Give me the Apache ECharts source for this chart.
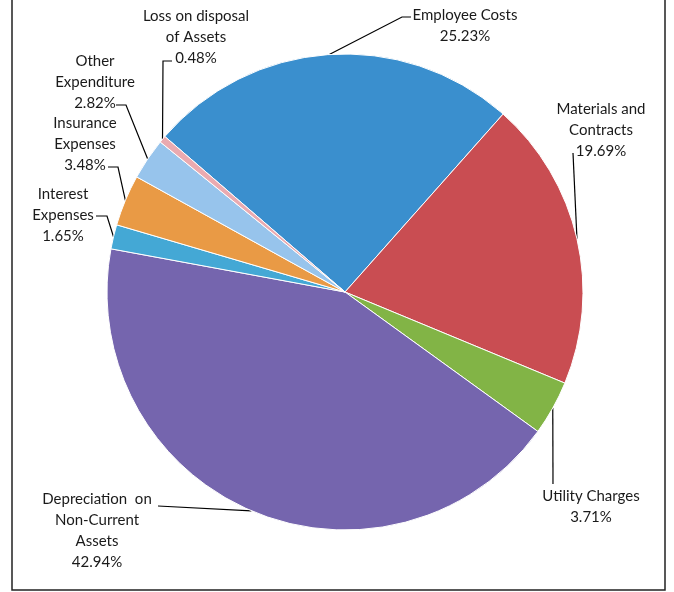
<!DOCTYPE html>
<html>
<head>
<meta charset="utf-8">
<style>
  html, body { margin: 0; padding: 0; background: #fff; }
  #chart { width: 674px; height: 592px; }
</style>
<script src="https://cdn.jsdelivr.net/npm/echarts@6/dist/echarts.min.js"></script>
</head>
<body>
<div id="chart"></div>
<script>
// Expense categories, listed clockwise from the top
const categories = [
  'Employee Costs',
  'Materials and\nContracts',
  'Utility Charges',
  'Depreciation  on\nNon-Current\nAssets',
  'Interest\nExpenses',
  'Insurance\nExpenses',
  'Other\nExpenditure',
  'Loss on disposal\nof Assets'
];
// Share of total expenditure (%)
const shares = [25.23, 19.69, 3.71, 42.94, 1.65, 3.48, 2.82, 0.48];
const colors = ['#3a8fce', '#c94d52', '#82b446', '#7565ae', '#44a8d5', '#e99a45', '#97c4ec', '#eaaab0'];

// Label block centres and leader-line bends (from the label back to the slice)
const labelPlacement = [
  { x: 465, y: 26,  bends: [[402, 17], [411, 17]] },
  { x: 601, y: 130, bends: [[573, 153]] },
  { x: 591, y: 507, bends: [[553, 484]] },
  { x: 97,  y: 531, bends: [[158, 506]] },
  { x: 63,  y: 215, bends: [[107, 216], [96, 216]] },
  { x: 85,  y: 144, bends: [[118, 167], [108, 167]] },
  { x: 95,  y: 82,  bends: [[126, 105], [116, 105]] },
  { x: 196, y: 37,  bends: [[163, 61], [172, 61]] }
];

const chart = echarts.init(document.getElementById('chart'), null, { renderer: 'canvas' });

chart.setOption({
  animation: false,
  backgroundColor: '#ffffff',
  graphic: [{
    type: 'rect',
    shape: { x: 12, y: -5, width: 653, height: 595 },
    style: { fill: 'none', stroke: '#222', lineWidth: 1.5 },
    silent: true
  }],
  series: [{
    type: 'pie',
    center: [345, 292],
    radius: 238,
    startAngle: 139.2,
    clockwise: true,
    avoidLabelOverlap: false,
    itemStyle: { borderColor: '#ffffff', borderWidth: 1 },
    label: {
      show: true,
      position: 'outside',
      fontFamily: 'Lato',
      fontSize: 15,
      lineHeight: 21,
      color: '#1a1a1a',
      formatter: function (p) {
        return p.name + '\n' + p.value.toFixed(2) + '%';
      }
    },
    labelLine: {
      show: true,
      lineStyle: { color: '#000', width: 1.2 }
    },
    labelLayout: function (params) {
      const place = labelPlacement[params.dataIndex];
      const start = params.labelLinePoints ? params.labelLinePoints[0] : null;
      const out = { x: place.x, y: place.y, align: 'center', verticalAlign: 'middle', hideOverlap: false };
      if (start) {
        out.labelLinePoints = [start].concat(place.bends);
      }
      return out;
    },
    data: categories.map(function (name, i) {
      return { name: name, value: shares[i], itemStyle: { color: colors[i] } };
    })
  }]
});
</script>
</body>
</html>
